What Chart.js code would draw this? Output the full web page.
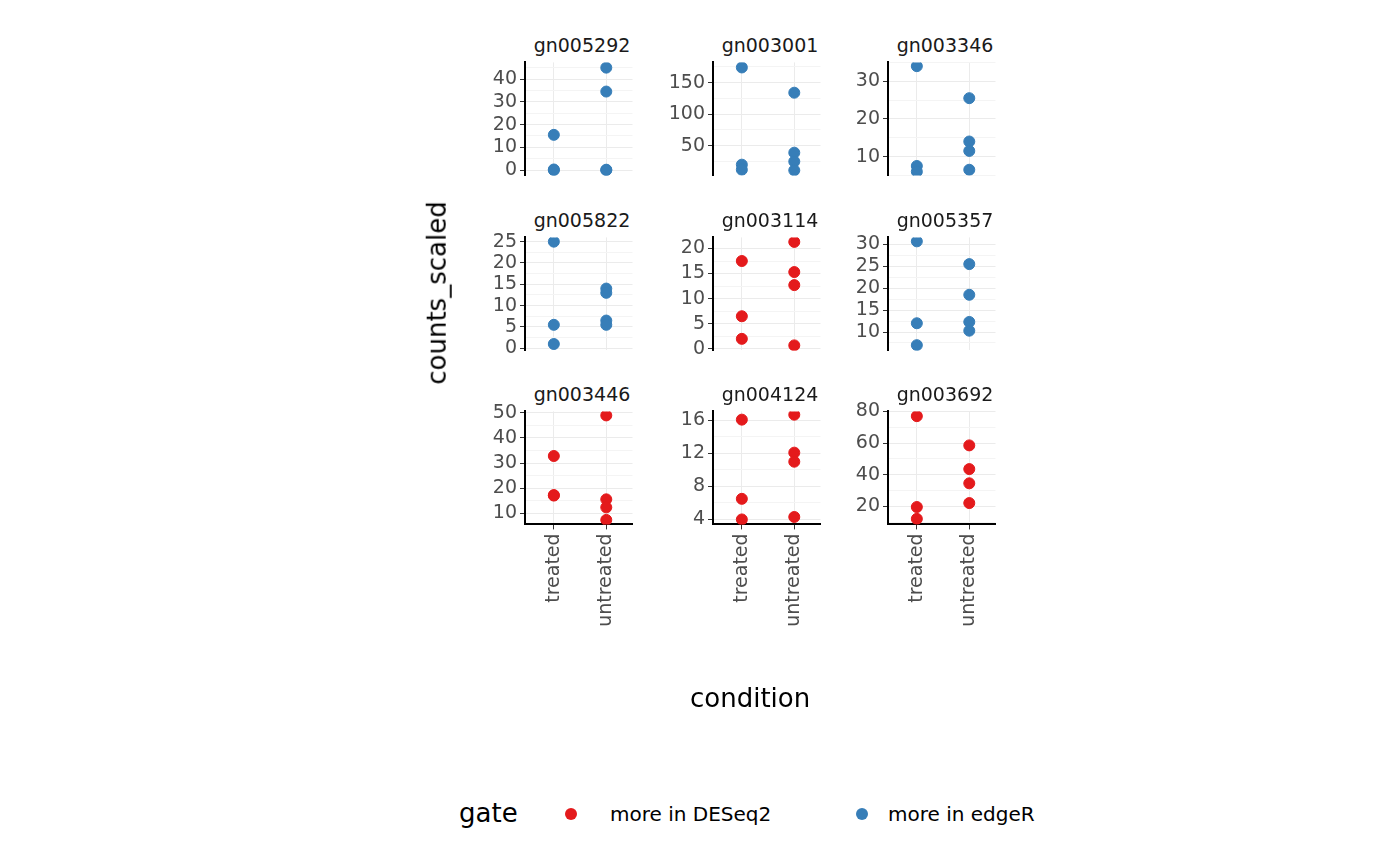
<!DOCTYPE html>
<html>
<head>
<meta charset="utf-8">
<script src="https://cdn.jsdelivr.net/npm/chart.js@4"></script>
<style>
  body { margin: 0; background: #fff; font-family: "DejaVu Sans", sans-serif; }
  #page { position: relative; width: 1400px; height: 865px; overflow: hidden; }
  .panel { position: absolute; }
  .strip { position: absolute; overflow: hidden; white-space: nowrap; text-align: center;
           font-size: 19px; color: #1a1a1a; height: 26px; line-height: 26px; }
  .strip span { display: inline-block; margin: 0 -60px; }
  .lab { position: absolute; font-size: 26px; color: #000; white-space: nowrap; }
  .leg { position: absolute; font-size: 20px; color: #000; white-space: nowrap; }
  .dot { position: absolute; width: 12px; height: 12px; border-radius: 50%; }
</style>
</head>
<body>
<div id="page"></div>
<script>
const RED = "#E41A1C";
const BLUE = "#377EB8";

const conditions = ["treated", "untreated"];
const genes = ["gn005292", "gn003001", "gn003346", "gn005822", "gn003114", "gn005357", "gn003446", "gn004124", "gn003692"];
const gates = ["edgeR", "edgeR", "edgeR", "edgeR", "DESeq2", "edgeR", "DESeq2", "DESeq2", "DESeq2"];
const treatedValues = [
  [15.5, 0.3, 0], [174, 20, 12], [34, 7.5, 6],
  [25, 5.5, 1], [17.5, 6.5, 2], [30.7, 12, 7],
  [32.8, 17, 17.2], [16.1, 6.5, 4], [77, 19.5, 12]
];
const untreatedValues = [
  [45, 34.5, 0.2, 0], [134, 39, 25, 11], [25.5, 14, 11.5, 6.5],
  [14, 13, 6.5, 5.5], [21.3, 15.3, 12.7, 0.7], [25.5, 18.5, 12.3, 10.3],
  [49, 15.5, 12.3, 7.3], [16.7, 12.1, 11, 4.3], [58.5, 43.5, 34.5, 22]
];
const yMin = [-2.3, 3, 5, -0.5, -0.3, 5.8, 5.5, 3.4, 8.5];
const yMax = [47.3, 182, 35, 26, 22.2, 31.6, 50.6, 17.1, 80];
const yStep = [5, 25, 5, 2.5, 2.5, 2.5, 5, 2, 10];
const yMajor = [10, 50, 10, 5, 5, 5, 10, 4, 20];

const colLeft = [525, 713, 888];
const rowTop = [62, 237, 411];
const plotW = 114, plotH = 113, axisW = 75, xAxisH = 150;

const page = document.getElementById("page");

genes.forEach((gene, i) => {
  const r = Math.floor(i / 3), c = i % 3;
  const bottomRow = r === 2;
  const left = colLeft[c], top = rowTop[r];

  const strip = document.createElement("div");
  strip.className = "strip";
  strip.style.left = left + "px";
  strip.style.top = (top - 30) + "px";
  strip.style.width = plotW + "px";
  strip.innerHTML = "<span>" + gene + "</span>";
  page.appendChild(strip);

  const box = document.createElement("div");
  box.className = "panel";
  let boxTop = top - 12, boxH = plotH + 12 + (bottomRow ? xAxisH : 0);
  box.style.left = (left - axisW) + "px";
  box.style.top = boxTop + "px";
  box.style.width = (axisW + plotW) + "px";
  box.style.height = boxH + "px";
  const cv = document.createElement("canvas");
  box.appendChild(cv);
  page.appendChild(box);

  const color = gates[i] === "DESeq2" ? RED : BLUE;
  const pts = treatedValues[i].map(v => ({ x: 1, y: v }))
    .concat(untreatedValues[i].map(v => ({ x: 2, y: v })));
  const isMajor = v => Math.abs(v / yMajor[i] - Math.round(v / yMajor[i])) < 1e-6;

  const chart = new Chart(cv, {
    type: "scatter",
    data: { datasets: [{ data: pts, backgroundColor: color, borderColor: color, pointRadius: 5.5, pointHoverRadius: 5.5 }] },
    options: {
      responsive: true,
      maintainAspectRatio: false,
      animation: false,
      layout: { padding: 0 },
      plugins: { legend: { display: false }, tooltip: { enabled: false } },
      scales: {
        x: {
          type: "linear", min: 0.45, max: 2.5,
          afterBuildTicks: s => { s.ticks = [{ value: 1 }, { value: 2 }]; },
          afterFit: s => { s.height = bottomRow ? xAxisH : 0; },
          grid: { color: "#ebebeb", lineWidth: 1, drawTicks: bottomRow, tickLength: 5, tickColor: "#333" },
          border: { display: bottomRow, color: "#000", width: 2 },
          ticks: {
            display: bottomRow, minRotation: 90, maxRotation: 90, padding: 4,
            color: "#4d4d4d", font: { family: "DejaVu Sans", size: 19 },
            callback: v => conditions[v - 1]
          }
        },
        y: {
          min: yMin[i], max: yMax[i],
          afterBuildTicks: s => {
            const t = [];
            for (let v = Math.ceil(yMin[i] / yStep[i]) * yStep[i]; v <= yMax[i]; v += yStep[i]) t.push({ value: v });
            s.ticks = t;
          },
          afterFit: s => { s.width = axisW; },
          grid: {
            color: ctx => isMajor(ctx.tick.value) ? "#ebebeb" : "#f4f4f4",
            tickColor: ctx => isMajor(ctx.tick.value) ? "#333" : "rgba(0,0,0,0)",
            tickLength: 5, lineWidth: 1
          },
          border: { color: "#000", width: 2 },
          ticks: {
            color: "#4d4d4d", padding: 3, autoSkip: false,
            font: { family: "DejaVu Sans", size: 19 },
            callback: v => isMajor(v) ? String(Math.round(v)) : ""
          }
        }
      }
    }
  });

  // shift the canvas so its plot area lands on the panel box of the reference
  for (let k = 0; k < 3; k++) {
    const a = chart.chartArea;
    boxTop += top - (boxTop + a.top);
    boxH += plotH - (a.bottom - a.top);
    box.style.top = boxTop + "px";
    box.style.height = boxH + "px";
    chart.resize();
  }
});

function addText(cls, text, x, y, extra) {
  const d = document.createElement("div");
  d.className = cls;
  d.textContent = text;
  d.style.left = x + "px";
  d.style.top = y + "px";
  if (extra) Object.assign(d.style, extra);
  page.appendChild(d);
  return d;
}
addText("lab", "condition", 690, 683);
addText("lab", "counts_scaled", 345, 278, { transform: "rotate(-90deg)" });
addText("lab", "gate", 459, 798);
addText("leg", "more in DESeq2", 610, 802);
addText("leg", "more in edgeR", 888, 802);
[[565, RED], [856, BLUE]].forEach(([x, col]) => {
  const d = document.createElement("div");
  d.className = "dot";
  d.style.left = x + "px";
  d.style.top = "808px";
  d.style.background = col;
  page.appendChild(d);
});
</script>
</body>
</html>
